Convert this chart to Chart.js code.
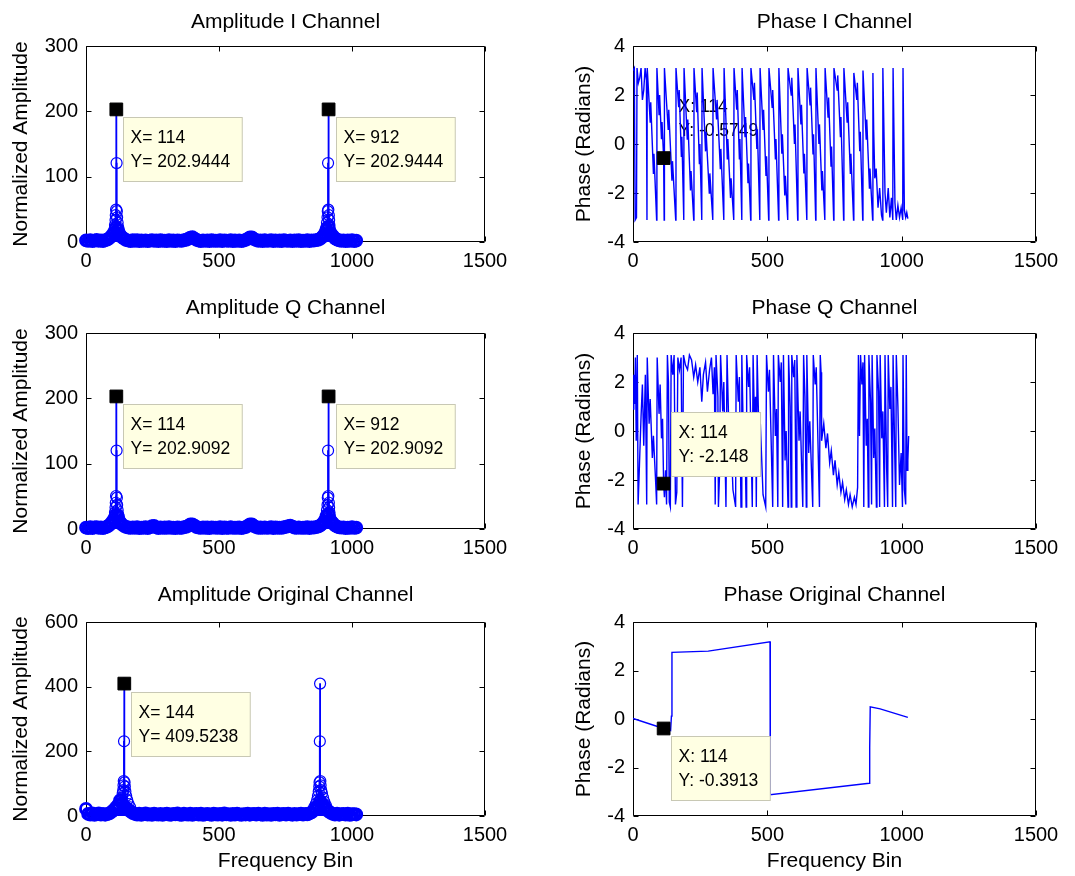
<!DOCTYPE html>
<html>
<head>
<meta charset="utf-8">
<script src="https://cdn.jsdelivr.net/npm/chart.js@4.4.1/dist/chart.umd.min.js"></script>
<style>
  body { margin: 0; background: #fff; }
  #fig { position: relative; width: 1075px; height: 876px; }
  #fig canvas { position: absolute; }
</style>
</head>
<body>
<div id="fig">
  <canvas id="ampI" width="540" height="290" style="left:0;top:0"></canvas>
  <canvas id="phaseI" width="535" height="290" style="left:540px;top:0"></canvas>
  <canvas id="ampQ" width="540" height="280" style="left:0;top:290px"></canvas>
  <canvas id="phaseQ" width="535" height="280" style="left:540px;top:290px"></canvas>
  <canvas id="ampOrig" width="540" height="306" style="left:0;top:570px"></canvas>
  <canvas id="phaseOrig" width="535" height="306" style="left:540px;top:570px"></canvas>
</div>
<script>
// ---- ticks ----
const binTicks = [0, 500, 1000, 1500];
const ampTicks = [0, 100, 200, 300];
const ampOrigTicks = [0, 200, 400, 600];
const phaseTicks = [-4, -2, 0, 2, 4];

// bins of the sampled noise floor (every 8th bin)
const floorBins = Array.from({ length: 128 }, (_, i) => i * 8);

// ---- Amplitude I ----
const ampIFloor = [
  2.4, 1.6, 2.9, 1.3, 2.2, 3.1, 1.7, 2.5, 1.4, 2.8,
  3.6, 5.8, 9.5, 14.0, 22.0, 18.5, 11.0, 7.2, 4.6, 3.0,
  2.2, 1.5, 2.7, 1.9, 3.0, 1.4, 2.3, 1.8, 2.6, 1.2,
  2.0, 2.9, 1.6, 2.4, 1.3, 2.7, 1.9, 2.2, 1.5, 2.8,
  1.7, 2.3, 1.4, 2.6, 2.0, 1.6, 2.9, 3.4, 4.6, 6.8,
  7.5, 5.2, 3.1, 2.2, 1.5, 2.6, 1.8, 2.4, 1.3, 2.7,
  1.9, 2.2, 1.6, 2.8, 1.4, 2.5, 2.0, 1.7, 2.9, 1.5,
  2.3, 1.8, 2.6, 1.3, 2.1, 3.2, 4.8, 7.2, 6.9, 4.3,
  2.8, 1.9, 2.4, 1.5, 2.7, 1.6, 2.2, 2.9, 1.4, 2.5,
  1.8, 2.3, 1.5, 2.8, 2.0, 1.6, 2.6, 1.3, 2.4, 1.9,
  2.7, 1.5, 2.2, 1.8, 2.9, 1.4, 2.5, 2.1, 2.8, 3.4,
  4.8, 7.4, 11.5, 19.0, 23.0, 13.5, 9.2, 5.6, 3.8, 2.6,
  1.9, 2.6, 1.4, 2.3, 1.7, 2.8, 1.5, 2.2
];
const ampIPeakBins = [100, 104, 107, 109, 111, 112, 113, 114, 115, 116, 117, 119, 121, 124, 128,
                      896, 900, 904, 906, 908, 909, 910, 911, 912, 913, 914, 915, 917, 920, 924];
const ampIPeakVals = [10.5, 14.2, 18.6, 26.0, 33.5, 41.0, 49.5, 202.9444, 120.8, 47.2, 37.8, 29.4, 22.6, 16.8, 12.4,
                      12.4, 16.8, 22.6, 29.4, 37.8, 47.2, 120.8, 49.5, 202.9444, 41.0, 33.5, 26.0, 18.6, 14.2, 10.5];
const ampITips = [[114, 202.9444], [912, 202.9444]];

// ---- Amplitude Q ----
const ampQFloor = [
  2.0, 1.5, 2.7, 1.2, 2.4, 2.9, 1.6, 2.3, 1.4, 2.6,
  3.8, 6.0, 9.8, 14.5, 21.5, 19.0, 10.5, 6.8, 4.4, 2.9,
  2.3, 1.6, 2.5, 1.8, 2.8, 1.3, 2.2, 1.9, 2.7, 1.4,
  2.6, 4.2, 4.6, 2.5, 1.4, 2.6, 1.8, 2.3, 1.6, 2.7,
  1.8, 2.2, 1.5, 2.5, 1.9, 1.7, 2.8, 3.3, 4.8, 6.9,
  7.2, 5.0, 3.0, 2.1, 1.6, 2.5, 1.9, 2.3, 1.4, 2.6,
  2.0, 2.1, 1.7, 2.7, 1.5, 2.4, 1.9, 1.8, 2.8, 1.6,
  2.2, 1.9, 2.5, 1.4, 2.2, 3.0, 4.6, 7.0, 7.1, 4.5,
  2.9, 1.8, 2.3, 1.6, 2.6, 1.7, 2.1, 2.8, 1.5, 2.4,
  1.9, 2.2, 1.6, 2.7, 3.4, 4.4, 5.0, 3.6, 2.3, 1.8,
  2.6, 1.6, 2.1, 1.9, 2.8, 1.5, 2.4, 2.2, 2.9, 3.6,
  5.0, 7.8, 12.0, 19.5, 22.5, 13.0, 8.8, 5.4, 3.6, 2.5,
  2.0, 2.5, 1.5, 2.2, 1.8, 2.7, 1.6, 2.1
];
const ampQPeakBins = [100, 104, 107, 109, 111, 112, 113, 114, 115, 116, 117, 119, 121, 124, 128,
                      896, 900, 904, 906, 908, 909, 910, 911, 912, 913, 914, 915, 917, 920, 924];
const ampQPeakVals = [11.0, 14.6, 19.2, 25.5, 32.8, 40.2, 50.5, 202.9092, 120.1, 48.0, 36.9, 28.8, 22.0, 16.2, 12.0,
                      12.0, 16.2, 22.0, 28.8, 36.9, 48.0, 120.1, 50.5, 202.9092, 40.2, 32.8, 25.5, 19.2, 14.6, 11.0];
const ampQTips = [[114, 202.9092], [912, 202.9092]];

// ---- Amplitude Original ----
const ampOrigFloor = [
  22, 6.5, 4.2, 7.8, 3.6, 5.9, 8.4, 4.1, 6.7, 3.9,
  5.5, 8.2, 12.5, 18.0, 26.0, 34.0, 48.0, 40.0, 30.0, 24.0,
  19.0, 13.5, 9.0, 6.2, 4.4, 7.1, 3.8, 5.6, 8.0, 4.3,
  6.1, 3.7, 7.4, 5.2, 4.0, 6.8, 3.5, 5.8, 7.6, 4.6,
  3.9, 6.4, 5.0, 7.9, 4.2, 3.6, 6.9, 5.3, 4.5, 7.2,
  3.8, 5.7, 6.6, 4.1, 7.5, 3.7, 5.1, 6.3, 4.8, 3.5,
  7.0, 5.4, 4.3, 6.2, 3.9, 7.7, 4.9, 5.6, 3.6, 6.5,
  4.4, 7.3, 5.0, 3.8, 6.0, 4.7, 7.1, 3.9, 5.5, 6.4,
  4.0, 6.9, 5.2, 3.7, 7.4, 4.6, 5.9, 3.8, 6.3, 4.9,
  7.2, 3.6, 5.8, 6.6, 4.2, 7.0, 5.1, 3.9, 6.2, 4.5,
  5.6, 7.3, 4.1, 6.2, 5.0, 7.8, 11.0, 16.5, 24.0, 32.0,
  46.0, 38.0, 29.0, 21.0, 14.0, 9.5, 6.4, 4.5, 7.0, 3.9,
  5.8, 6.6, 4.3, 7.2, 3.8, 5.4, 6.1, 4.7
];
const ampOrigPeakBins = [126, 131, 135, 138, 140, 141, 142, 143, 144, 145, 146, 148, 151, 155, 160, 166,
                         858, 864, 869, 872, 875, 877, 878, 879, 880, 881, 882, 884, 887, 891, 896, 902];
const ampOrigPeakVals = [32, 44, 57, 70, 80, 95, 108, 231, 409.5238, 104, 91, 76, 62, 49, 37, 27,
                         27, 37, 49, 62, 76, 91, 104, 231, 409.5, 108, 95, 80, 70, 57, 44, 32];
const ampOrigTips = [[144, 409.5238]];

// ---- Phase I: [bin, radians] vertices ----
const phaseIPoints = [
  [0, 3.0], [5, 3.1], [8, -3.1], [13, -3.0], [15, 3.1], [20, 2.5], [25, 2.7], [30, 3.1], [35, 1.8], [40, 2.2],
  [45, 3.1], [50, 2.6], [52, -3.1],
  [53, 3.1], [64, 0.9], [66, 1.7], [76, -1.2], [78, -0.4], [88, -3.1],
  [89, 3.1], [97, 1.2], [99, 2.0], [106, 0.2], [108, 0.9], [114, -0.5749], [116, -3.1],
  [117, 3.1], [131, 0.6], [133, 1.4], [145, -1.5], [147, -0.7], [159, -3.1],
  [160, 3.1], [170, 1.5], [172, 2.2], [180, -0.5], [182, 0.3], [189, -3.1],
  [190, 3.1], [202, 0.2], [204, 1.0], [214, -1.9], [216, -1.1], [226, -3.1],
  [227, 3.1], [237, 1.3], [239, 2.1], [247, -0.8], [249, 0.0], [256, -3.1],
  [257, 3.1], [270, -0.3], [272, 0.5], [284, -2.0], [286, -1.2], [297, -3.1],
  [298, 3.1], [311, 1.0], [313, 1.8], [325, -1.0], [327, -0.2], [338, -3.1],
  [339, 3.1], [351, -0.6], [353, 0.2], [363, -2.2], [365, -1.4], [375, -3.1],
  [376, 3.1], [386, 1.4], [388, 2.2], [396, -0.6], [398, 0.2], [405, -3.1],
  [406, 3.1], [417, 0.3], [419, 1.1], [428, -1.6], [430, -0.8], [438, -3.1],
  [439, 3.1], [450, 1.8], [452, 2.5], [461, -0.2], [463, 0.6], [472, -3.1],
  [473, 3.1], [484, 0.6], [486, 1.4], [495, -1.3], [497, -0.5], [505, -3.1],
  [506, 3.1], [518, 1.5], [520, 2.2], [530, -0.6], [532, 0.2], [542, -3.1],
  [543, 3.1], [554, -0.4], [556, 0.4], [565, -2.1], [567, -1.3], [576, -3.1],
  [577, 3.1], [589, 2.0], [591, 2.7], [601, 0.0], [603, 0.8], [613, -3.1],
  [614, 3.1], [625, 0.8], [627, 1.6], [636, -1.2], [638, -0.4], [647, -3.1],
  [648, 3.1], [659, 1.6], [661, 2.3], [670, -0.4], [672, 0.4], [680, -3.1],
  [681, 3.1], [692, 0.0], [694, 0.8], [703, -1.9], [705, -1.1], [714, -3.1],
  [715, 3.1], [726, 1.1], [728, 1.9], [737, -0.9], [739, -0.1], [747, -3.1],
  [748, 3.1], [760, 2.2], [762, 2.8], [772, 0.3], [774, 1.1], [784, -3.1],
  [785, 3.1], [797, 0.9], [799, 1.7], [809, -1.2], [811, -0.4], [821, -3.1],
  [822, 2.9], [833, 1.8], [835, 2.5], [844, -0.3], [846, 0.5], [855, -3.1],
  [856, 3.0], [868, 0.2], [870, 1.0], [880, -1.8], [882, -1.0], [892, -3.1],
  [893, 2.9], [896, 0.5], [900, -1.4], [905, -1.0], [912, -2.6], [918, -1.8], [925, -2.9], [929, -3.1],
  [930, 3.1], [938, -2.0], [943, -2.8], [950, -1.8], [956, -3.0], [962, -2.2], [967, -3.1],
  [968, 3.1], [975, -2.4], [980, -3.1], [986, -2.5], [992, -3.0], [998, -2.6], [1004, -3.1],
  [1005, 3.1], [1010, -2.7], [1015, -3.0], [1019, -2.8], [1023, -3.05]
];
const phaseITips = [[114, -0.5749]];

// ---- Phase Q ----
const phaseQPoints = [
  [0, 0.9], [3, 2.3], [6, 1.1], [9, 3.0], [12, -0.4], [16, 3.1], [19, -3.0], [24, -1.4], [30, 0.6], [35, 1.9],
  [40, -0.6], [46, 2.3], [51, -3.0], [53, 3.0], [60, 0.3], [64, 1.3], [72, -1.1], [76, -0.2], [84, -2.0], [88, -3.0],
  [90, 3.0], [97, 0.7], [101, 1.9], [106, -0.3], [110, 0.5], [114, -2.148], [117, -2.7], [121, -1.6], [125, -3.0], [128, 3.1],
  [132, 2.0], [135, -2.9], [139, -3.1], [142, 3.1], [148, 2.3], [153, 3.1], [158, -3.0], [163, -2.5], [167, 3.0], [173, 2.5],
  [179, 3.0], [184, -3.1], [188, 3.1], [195, 2.7], [203, 2.5], [210, 3.1], [218, 2.9], [226, 2.2], [233, 2.7], [241, 2.0],
  [249, 2.6], [256, 1.2], [262, 2.3], [270, 2.8], [277, 1.6], [285, 2.5], [292, 3.0], [298, 1.5], [303, 2.6], [306, -3.0],
  [309, 3.1], [316, 1.4], [318, -3.1], [322, -1.8], [326, 3.1], [334, 0.8], [338, 2.0], [346, -3.1], [350, 3.1], [358, -0.5],
  [362, 0.6], [372, -2.4], [382, -3.1], [384, 3.1], [392, 1.2], [396, 2.2], [402, -3.1], [405, 3.1], [412, -1.0], [416, 0.2],
  [421, -3.1], [423, 3.1], [430, 1.8], [434, 2.6], [444, -3.1], [447, 3.1], [452, 0.4], [456, 1.4], [459, -3.1], [462, 3.1],
  [470, -0.8], [474, 0.3], [484, -2.6], [494, -3.1], [497, 3.1], [504, 1.6], [508, 2.5], [520, -3.1], [523, 3.1], [530, -0.2],
  [534, 0.9], [539, -3.1], [541, 3.1], [548, 2.0], [552, 2.8], [557, -3.1], [560, 3.1], [566, -1.2], [570, 0.0], [577, -3.1],
  [579, 3.1], [585, 1.0], [589, -3.1], [591, 3.1], [598, 2.2], [602, 2.9], [607, -3.1], [610, 3.1], [618, -0.4], [622, 0.8],
  [632, -3.1], [635, 3.1], [640, 1.4], [645, -3.1], [647, 3.1], [654, -0.9], [658, 0.4], [669, -3.1], [671, 3.1], [678, 1.9],
  [682, 2.6], [694, -3.1], [697, 3.1], [700, 2.4], [702, -0.4], [710, 0.3], [718, -0.7], [724, -0.1], [732, -1.3], [738, -0.8],
  [746, -1.8], [752, -1.2], [760, -2.2], [766, -1.7], [774, -2.5], [780, -2.1], [788, -2.8], [794, -2.4], [802, -3.0], [808, -2.6],
  [816, -3.1], [824, -2.7], [830, -3.0], [836, -2.3], [839, 3.1], [843, -0.2], [847, 3.1], [852, 1.9], [856, 2.8], [859, -3.1],
  [862, 3.1], [868, -0.6], [872, 0.5], [876, -3.1], [878, 3.1], [884, 1.2], [888, -3.0], [890, 3.1], [896, -1.1], [900, 0.1],
  [906, -3.1], [908, 3.1], [914, 1.6], [918, -3.1], [920, 3.1], [926, -0.3], [930, 0.8], [936, -3.1], [938, 3.1], [944, -1.5],
  [948, -3.1], [950, 3.1], [956, 0.9], [960, 1.8], [966, -3.1], [968, 3.1], [974, -0.8], [978, -3.1], [980, 3.1], [986, 1.0],
  [992, -2.2], [998, -0.9], [1003, -3.1], [1005, 3.1], [1010, -2.4], [1015, -3.0], [1017, 3.1], [1020, -1.6], [1023, -1.2], [1026, -0.2]
];
const phaseQTips = [[114, -2.148]];

// ---- Phase Original ----
const phaseOrigPoints = [
  [0, 0.02], [114, -0.3913], [140, -0.48], [143, 0.12], [145, 2.75], [280, 2.8], [510, 3.18], [511, -3.12],
  [879, -2.65], [881, -1.2], [883, 0.5], [920, 0.42], [1023, 0.07]
];
const phaseOrigTips = [[114, -0.3913]];

// ---- drawing ----
const BLUE = '#0000ff';
const FONT = "'Liberation Sans', Arial, Helvetica, sans-serif";
Chart.defaults.font.family = FONT;
Chart.defaults.color = '#000';

// MATLAB style box with inward ticks on all four sides
const matlabFrame = {
  id: 'matlabFrame',
  beforeDatasetsDraw(chart) {
    const { ctx, chartArea: a, scales: { x, y } } = chart;
    const L = Math.round(a.left) + 0.5, R = Math.round(a.right) - 0.5;
    const T = Math.round(a.top) + 0.5, B = Math.round(a.bottom) - 0.5;
    ctx.save();
    ctx.strokeStyle = '#000';
    ctx.lineWidth = 1;
    ctx.beginPath();
    ctx.rect(L, T, R - L, B - T);
    x.ticks.forEach(t => {
      const p = Math.round(x.getPixelForValue(t.value)) + 0.5;
      ctx.moveTo(p, B); ctx.lineTo(p, B - 5);
      ctx.moveTo(p, T); ctx.lineTo(p, T + 5);
    });
    y.ticks.forEach(t => {
      const p = Math.round(y.getPixelForValue(t.value)) + 0.5;
      ctx.moveTo(L, p); ctx.lineTo(L + 5, p);
      ctx.moveTo(R, p); ctx.lineTo(R - 5, p);
    });
    ctx.stroke();
    ctx.restore();
  }
};

// data cursor boxes ("X= 114 / Y= 202.9444")
function drawTips(chart, o) {
  const { ctx, scales: { x, y } } = chart;
  ctx.save();
  ctx.font = '17.5px ' + FONT;
  ctx.textBaseline = 'alphabetic';
  o.tips.forEach(([tx, ty]) => {
    const lines = ['X' + o.sep + tx, 'Y' + o.sep + ty];
    const px = x.getPixelForValue(tx), py = y.getPixelForValue(ty);
    const w = Math.max(...lines.map(s => ctx.measureText(s).width)) + 19;
    const h = 64;
    const left = Math.round(px + 7) + 0.5;
    const top = Math.round(o.place === 'above' ? py - 8 - h : py + 8) + 0.5;
    if (o.boxed) {
      ctx.fillStyle = '#ffffe3';
      ctx.strokeStyle = '#c8c8b4';
      ctx.lineWidth = 1;
      ctx.fillRect(left, top, w, h);
      ctx.strokeRect(left, top, w, h);
    }
    ctx.fillStyle = '#000';
    ctx.fillText(lines[0], left + 7, top + 25);
    ctx.fillText(lines[1], left + 7, top + 49);
  });
  ctx.restore();
}
const dataTips = {
  id: 'dataTips',
  beforeDatasetsDraw(chart, args, o) { if (o.tips && !o.boxed) drawTips(chart, o); },
  afterDatasetsDraw(chart, args, o) { if (o.tips && o.boxed) drawTips(chart, o); }
};
Chart.register(matlabFrame, dataTips);

const cols = [
  { yWidth: 86, padRight: 55, yTitlePad: 8.4, yTitle: 'Normalized Amplitude' },
  { yWidth: 93, padRight: 39, yTitlePad: 31.4, yTitle: 'Phase (Radians)' }
];
const rows = [
  { topBox: 46, titleTop: 9.4, xHeight: 48, xTitle: '' },
  { topBox: 43, titleTop: 5.4, xHeight: 41, xTitle: '' },
  { topBox: 52, titleTop: 12.9, xHeight: 60, xTitle: 'Frequency Bin' }
];

function makeOptions(title, col, row, yTicks, tips) {
  const c = cols[col], r = rows[row];
  return {
    responsive: false,
    animation: false,
    events: [],
    layout: { padding: { top: 0, right: c.padRight, bottom: 0, left: 0 } },
    plugins: {
      legend: { display: false },
      tooltip: { enabled: false },
      title: {
        display: true, text: title, fullSize: false, color: '#000',
        font: { size: 21, weight: 'normal' },
        padding: { top: r.titleTop, bottom: r.topBox - 25.2 - r.titleTop }
      },
      dataTips: tips
    },
    scales: {
      x: {
        type: 'linear', offset: false, min: binTicks[0], max: binTicks[binTicks.length - 1],
        afterBuildTicks: s => { s.ticks = binTicks.map(v => ({ value: v })); },
        afterFit: s => { s.height = r.xHeight; },
        grid: { display: false, drawTicks: false, offset: false }, border: { display: false },
        ticks: { color: '#000', font: { size: 20 }, padding: 7, maxRotation: 0, autoSkip: false, callback: v => String(v) },
        title: { display: r.xTitle !== '', text: r.xTitle, color: '#000', font: { size: 21 }, padding: { top: 0, bottom: 2 } }
      },
      y: {
        type: 'linear', min: yTicks[0], max: yTicks[yTicks.length - 1],
        afterBuildTicks: s => { s.ticks = yTicks.map(v => ({ value: v })); },
        afterFit: s => { s.width = c.yWidth; },
        grid: { display: false, drawTicks: false }, border: { display: false },
        ticks: { color: '#000', font: { size: 20 }, padding: 8, autoSkip: false, callback: v => String(v) },
        title: { display: true, text: c.yTitle, color: '#000', font: { size: 21 }, padding: { top: c.yTitlePad, bottom: 0 } }
      }
    }
  };
}

function tipSquares(tips) {
  return {
    type: 'scatter',
    data: tips.map(([x, y]) => ({ x, y })),
    pointStyle: 'rect', pointRadius: 9,
    pointBackgroundColor: '#000', pointBorderColor: '#000', pointBorderWidth: 1,
    clip: false
  };
}

function circles(pts, width) {
  return {
    type: 'scatter', data: pts, pointStyle: 'circle', pointRadius: 5.5,
    pointBorderColor: BLUE, pointBackgroundColor: 'rgba(0,0,0,0)', pointBorderWidth: width,
    clip: false
  };
}

function amplitudeChart(id, title, row, yTicks, floor, peakBins, peakVals, tips) {
  const floorPts = floorBins.map((b, i) => ({ x: b, y: floor[i] }));
  const peakPts = peakBins.map((b, i) => ({ x: b, y: peakVals[i] }));
  new Chart(document.getElementById(id), {
    type: 'bar',
    data: {
      datasets: [
        tipSquares(tips),
        circles(peakPts, 1.2),
        circles(floorPts, 2.8),
        { type: 'bar', data: floorPts.concat(peakPts), backgroundColor: BLUE, borderWidth: 0, barThickness: 1.2 }
      ]
    },
    options: makeOptions(title, 0, row, yTicks, { tips, sep: '= ', place: 'below', boxed: true })
  });
}

function phaseChart(id, title, row, points, tips, place, boxed) {
  new Chart(document.getElementById(id), {
    type: 'scatter',
    data: {
      datasets: [
        tipSquares(tips),
        {
          type: 'line', data: points.map(([x, y]) => ({ x, y })),
          borderColor: BLUE, borderWidth: 1.4, pointRadius: 0, tension: 0, fill: false
        }
      ]
    },
    options: makeOptions(title, 1, row, phaseTicks, { tips, sep: ': ', place, boxed })
  });
}

amplitudeChart('ampI', 'Amplitude I Channel', 0, ampTicks, ampIFloor, ampIPeakBins, ampIPeakVals, ampITips);
amplitudeChart('ampQ', 'Amplitude Q Channel', 1, ampTicks, ampQFloor, ampQPeakBins, ampQPeakVals, ampQTips);
amplitudeChart('ampOrig', 'Amplitude Original Channel', 2, ampOrigTicks, ampOrigFloor, ampOrigPeakBins, ampOrigPeakVals, ampOrigTips);
phaseChart('phaseI', 'Phase I Channel', 0, phaseIPoints, phaseITips, 'above', false);
phaseChart('phaseQ', 'Phase Q Channel', 1, phaseQPoints, phaseQTips, 'above', true);
phaseChart('phaseOrig', 'Phase Original Channel', 2, phaseOrigPoints, phaseOrigTips, 'below', true);
</script>
</body>
</html>
